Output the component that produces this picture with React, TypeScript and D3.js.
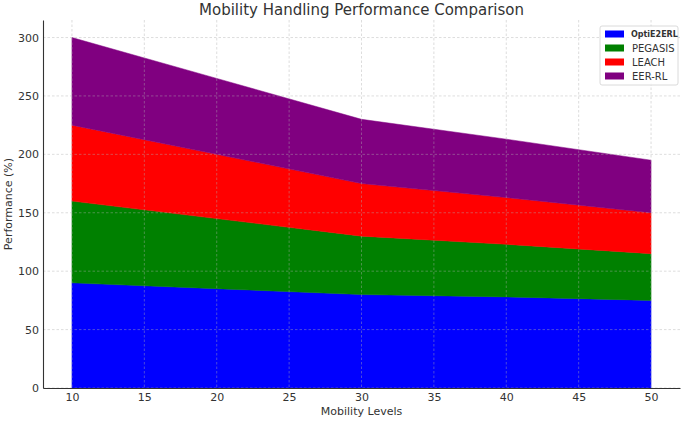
import { useEffect, useRef } from 'react'
import * as d3 from 'd3'

// Values (stacked, bottom to top)
const LEVELS = [10, 20, 30, 40, 50]
const OPTI_E2ERL = [90, 85, 80, 78, 75]
const PEGASIS = [70, 60, 50, 45, 40]
const LEACH = [65, 55, 45, 40, 35]
const EER_RL = [75, 65, 55, 50, 45]

const SERIES = [
  { key: 'OptiE2ERL', values: OPTI_E2ERL, color: '#0000ff' },
  { key: 'PEGASIS', values: PEGASIS, color: '#008000' },
  { key: 'LEACH', values: LEACH, color: '#ff0000' },
  { key: 'EER-RL', values: EER_RL, color: '#800080' },
]

const X_TICKS = [10, 15, 20, 25, 30, 35, 40, 45, 50]
const Y_TICKS = [0, 50, 100, 150, 200, 250, 300]

const WIDTH = 685
const HEIGHT = 421
const FONT = '"DejaVu Sans", sans-serif'
const TEXT = '#333333'

export default function App() {
  const svgRef = useRef<SVGSVGElement>(null)

  useEffect(() => {
    const svg = svgRef.current
    if (!svg) return

    const margin = { top: 20, right: 5, bottom: 33, left: 43 }
    const innerW = WIDTH - margin.left - margin.right
    const innerH = HEIGHT - margin.top - margin.bottom

    const root = d3.select(svg)
    root.selectAll('*').remove()

    const g = root.append('g').attr('transform', `translate(${margin.left},${margin.top})`)

    const x = d3.scaleLinear().domain([8, 52]).range([0, innerW])
    const y = d3.scaleLinear().domain([0, 315]).range([innerH, 0])

    // build table for d3.stack
    const table = LEVELS.map((lvl, i) => {
      const row: Record<string, number> = { level: lvl }
      SERIES.forEach(s => { row[s.key] = s.values[i] })
      return row
    })
    const stacked = d3.stack<Record<string, number>>().keys(SERIES.map(s => s.key))(table)

    const area = d3.area<d3.SeriesPoint<Record<string, number>>>()
      .x(d => x(d.data.level))
      .y0(d => y(d[0]))
      .y1(d => y(d[1]))

    stacked.forEach((layer, i) => {
      g.append('path')
        .attr('d', area(layer) ?? '')
        .attr('fill', SERIES[i].color)
        .attr('stroke', SERIES[i].color)
        .attr('stroke-width', 0.5)
    })

    // grid on top, dashed
    const grid = g.append('g').attr('stroke', '#b0b0b0').attr('stroke-width', 0.7)
      .attr('stroke-dasharray', '2.5,2').attr('opacity', 0.6)
    X_TICKS.forEach(t => {
      grid.append('line').attr('x1', x(t)).attr('x2', x(t)).attr('y1', 0).attr('y2', innerH)
    })
    Y_TICKS.forEach(t => {
      grid.append('line').attr('x1', 0).attr('x2', innerW).attr('y1', y(t)).attr('y2', y(t))
    })

    // X axis
    g.append('g')
      .attr('transform', `translate(0,${innerH})`)
      .call(d3.axisBottom(x).tickValues(X_TICKS).tickSize(0).tickPadding(5).tickFormat(d => `${d}`))
      .call(ax => {
        ax.select('.domain').attr('stroke', TEXT).attr('stroke-width', 1.1)
        ax.selectAll('text').attr('fill', TEXT).attr('font-size', '11px').attr('font-family', FONT)
      })

    // Y axis
    g.append('g')
      .call(d3.axisLeft(y).tickValues(Y_TICKS).tickSize(0).tickPadding(4).tickFormat(d => `${d}`))
      .call(ax => {
        ax.select('.domain').attr('stroke', TEXT).attr('stroke-width', 1.1)
        ax.selectAll('text').attr('fill', TEXT).attr('font-size', '11px').attr('font-family', FONT)
      })

    // Title and axis labels
    root.append('text')
      .attr('x', margin.left + innerW / 2).attr('y', 15)
      .attr('text-anchor', 'middle').attr('fill', TEXT)
      .attr('font-family', FONT).attr('font-size', '15px')
      .text('Mobility Handling Performance Comparison')

    root.append('text')
      .attr('x', margin.left + innerW / 2).attr('y', 415)
      .attr('text-anchor', 'middle').attr('fill', TEXT)
      .attr('font-family', FONT).attr('font-size', '11px')
      .text('Mobility Levels')

    root.append('text')
      .attr('transform', `translate(12,${margin.top + innerH / 2}) rotate(-90)`)
      .attr('text-anchor', 'middle').attr('fill', TEXT)
      .attr('font-family', FONT).attr('font-size', '11px')
      .text('Performance (%)')

    // Legend
    const lg = root.append('g').attr('transform', 'translate(600,26)')
    lg.append('rect')
      .attr('width', 78).attr('height', 59).attr('rx', 2)
      .attr('fill', 'white').attr('fill-opacity', 0.85)
      .attr('stroke', '#d0d0d0').attr('stroke-width', 0.8)
    SERIES.forEach((s, i) => {
      const cy = 8 + i * 14
      lg.append('rect').attr('x', 5).attr('y', cy - 3.5).attr('width', 19).attr('height', 7).attr('fill', s.color)
      lg.append('text')
        .attr('x', i === 0 ? 31 : 32).attr('y', cy).attr('dy', '0.35em')
        .attr('fill', TEXT).attr('font-family', FONT)
        .attr('font-size', i === 0 ? '8px' : '10px')
        .attr('font-weight', i === 0 ? 'bold' : 'normal')
        .text(s.key)
    })
  }, [])

  return (
    <svg
      ref={svgRef}
      width={WIDTH}
      height={HEIGHT}
      style={{ position: 'absolute', left: 0, top: 0, background: 'white', display: 'block' }}
    />
  )
}
